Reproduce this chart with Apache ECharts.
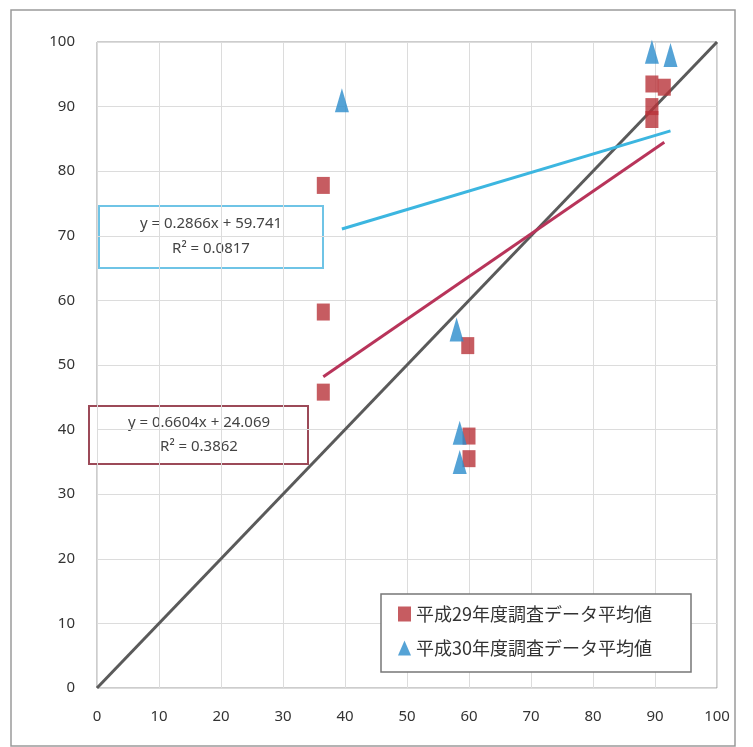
<!DOCTYPE html>
<html>
<head>
<meta charset="utf-8">
<script src="https://cdn.jsdelivr.net/npm/echarts@6/dist/echarts.min.js"></script>
<style>
  html, body { margin: 0; padding: 0; background: #fff; }
  #chart { width: 753px; height: 747px; }
</style>
</head>
<body>
<div id="chart"></div>
<script>
// Axis ticks
const xTicks = [0, 10, 20, 30, 40, 50, 60, 70, 80, 90, 100];
const yTicks = [0, 10, 20, 30, 40, 50, 60, 70, 80, 90, 100];

// Series names
const seriesNames = ['平成29年度調査データ平均値', '平成30年度調査データ平均値'];

// Red series (squares)
const redX = [36.5, 36.5, 36.5, 59.8, 60, 60, 89.5, 89.5, 89.5, 91.5];
const redY = [77.8, 58.2, 45.8, 53.0, 39.0, 35.5, 93.5, 90.0, 88.0, 93.0];

// Blue series (triangles)
const blueX = [39.5, 58.0, 58.5, 58.5, 89.5, 92.5];
const blueY = [91.0, 55.5, 39.5, 35.0, 98.5, 98.0];

// Linear trendline coefficients
const redFit = { slope: 0.6604, intercept: 24.069, r2: 0.3862 };
const blueFit = { slope: 0.2866, intercept: 59.741, r2: 0.0817 };

const pairs = (xs, ys) => xs.map((x, i) => [x, ys[i]]);
const fitLine = (xs, fit) => {
  const lo = Math.min(...xs), hi = Math.max(...xs);
  return [lo, hi].map(x => [x, fit.slope * x + fit.intercept]);
};
const eqText = fit => 'y = ' + fit.slope.toFixed(4) + 'x + ' + fit.intercept.toFixed(3);
const r2Text = fit => 'R² = ' + fit.r2.toFixed(4);

const RED = '#b8333a';
const BLUE = '#2b8ccc';
const RED_LINE = '#b8345a';
const BLUE_LINE = '#3cb6e0';
const FONT = '"Noto Sans CJK JP", "Noto Sans", sans-serif';
const LATIN = '"Noto Sans", "DejaVu Sans", sans-serif';

const chart = echarts.init(document.getElementById('chart'));

const axisCommon = {
  type: 'value', min: 0, max: 100, interval: 10,
  axisLine: { show: false },
  axisTick: { show: false },
  splitLine: { show: true, lineStyle: { color: '#dcdcdc', width: 1 } },
  axisLabel: { color: '#333', fontSize: 15, fontFamily: LATIN }
};

chart.setOption({
  animation: false,
  backgroundColor: '#fff',
  grid: { left: 97, right: 36, top: 42, bottom: 59, show: true, borderColor: '#9a9a9a', borderWidth: 1 },
  xAxis: Object.assign({}, axisCommon, {
    axisLabel: Object.assign({}, axisCommon.axisLabel, { margin: 21, formatter: v => xTicks.includes(v) ? String(v) : '' })
  }),
  yAxis: Object.assign({}, axisCommon, {
    axisLabel: Object.assign({}, axisCommon.axisLabel, { margin: 22, formatter: v => yTicks.includes(v) ? String(v) : '' })
  }),
  legend: {
    orient: 'vertical',
    left: 393, top: 600,
    itemGap: 16,
    itemWidth: 13, itemHeight: 15,
    data: [
      { name: seriesNames[0], icon: 'rect' },
      { name: seriesNames[1], icon: 'triangle' }
    ],
    textStyle: { color: '#333', fontSize: 18, fontFamily: FONT }
  },
  graphic: [
    { type: 'rect', shape: { x: 11, y: 10, width: 724, height: 736 }, style: { fill: 'none', stroke: '#9a9a9a', lineWidth: 1.5 }, silent: true },
    { type: 'rect', shape: { x: 381, y: 594, width: 310, height: 78 }, style: { fill: '#fff', stroke: '#777', lineWidth: 1.5 }, z: 1 },
    {
      type: 'group', left: 98, top: 205, z: 10,
      children: [
        { type: 'rect', shape: { x: 0, y: 0, width: 224, height: 62 }, style: { fill: '#fff', stroke: '#6fc4e6', lineWidth: 2 } },
        { type: 'text', style: { x: 112, y: 18, text: eqText(blueFit), align: 'center', verticalAlign: 'middle', fill: '#444', font: '15px ' + LATIN } },
        { type: 'text', style: { x: 112, y: 43, text: r2Text(blueFit), align: 'center', verticalAlign: 'middle', fill: '#444', font: '15px ' + LATIN } }
      ]
    },
    {
      type: 'group', left: 88, top: 405, z: 10,
      children: [
        { type: 'rect', shape: { x: 0, y: 0, width: 219, height: 58 }, style: { fill: '#fff', stroke: '#9c4a58', lineWidth: 2 } },
        { type: 'text', style: { x: 110, y: 17, text: eqText(redFit), align: 'center', verticalAlign: 'middle', fill: '#444', font: '15px ' + LATIN } },
        { type: 'text', style: { x: 110, y: 41, text: r2Text(redFit), align: 'center', verticalAlign: 'middle', fill: '#444', font: '15px ' + LATIN } }
      ]
    }
  ],
  series: [
    {
      name: 'diagonal', type: 'line', data: [[0, 0], [100, 100]],
      symbol: 'none', lineStyle: { color: '#5a5a5a', width: 3 }, z: 2, silent: true
    },
    {
      name: 'redFit', type: 'line', data: fitLine(redX, redFit),
      symbol: 'none', lineStyle: { color: RED_LINE, width: 3 }, z: 3, silent: true
    },
    {
      name: 'blueFit', type: 'line', data: fitLine(blueX, blueFit),
      symbol: 'none', lineStyle: { color: BLUE_LINE, width: 3 }, z: 3, silent: true
    },
    {
      name: seriesNames[0], type: 'scatter', data: pairs(redX, redY),
      symbol: 'rect', symbolSize: [13, 17], itemStyle: { color: RED }, z: 4
    },
    {
      name: seriesNames[1], type: 'scatter', data: pairs(blueX, blueY),
      symbol: 'triangle', symbolSize: [14, 24], itemStyle: { color: BLUE }, z: 5
    }
  ]
});
</script>
</body>
</html>
